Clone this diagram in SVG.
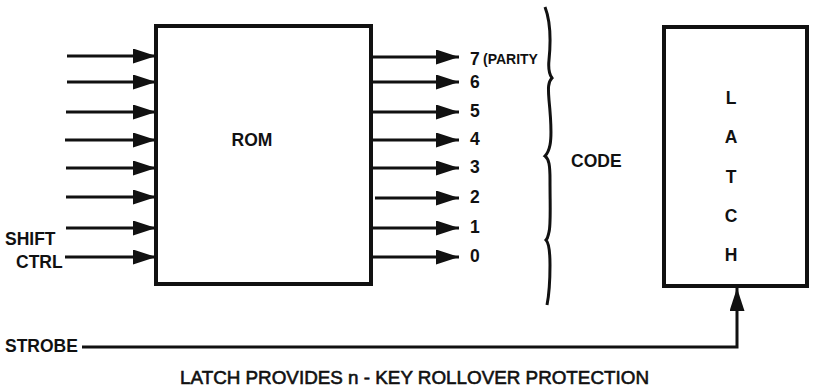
<svg xmlns="http://www.w3.org/2000/svg" width="815" height="390" viewBox="0 0 815 390">
<style>
text{font-family:"Liberation Sans",Arial,sans-serif;font-weight:bold;font-size:17.5px;fill:#111}
.box{fill:#fff;stroke:#111;stroke-width:4}
.w{stroke:#111;stroke-width:3;fill:none}
.mid{text-anchor:middle}
.cap{font-weight:normal;font-size:19px;stroke:#111;stroke-width:0.6}
</style>
<defs>
<marker id="ah" markerUnits="userSpaceOnUse" markerWidth="24" markerHeight="16" refX="23" refY="7.5" orient="auto">
<path d="M0,0 L23,7.5 L0,15 z" fill="#111"/>
</marker>
</defs>
<rect width="815" height="390" fill="#fff"/>
<g id="rom">
<rect class="box" x="156" y="26" width="215" height="258"/>
<text x="252" y="146" class="mid">ROM</text>
</g>
<g id="latch">
<rect class="box" x="664" y="27" width="143" height="259"/>
<text x="731" y="104" class="mid">L</text>
<text x="731" y="143" class="mid">A</text>
<text x="731" y="183" class="mid">T</text>
<text x="731" y="222" class="mid">C</text>
<text x="731" y="261" class="mid">H</text>
</g>
<g id="labels">
<text x="5" y="245">SHIFT</text>
<text x="16" y="268">CTRL</text>
<text x="5" y="352">STROBE</text>
<text x="470" y="65">7</text>
<text x="483" y="64" style="font-size:14px">(PARITY</text>
<text x="470" y="88">6</text>
<text x="470" y="117">5</text>
<text x="470" y="145">4</text>
<text x="470" y="173">3</text>
<text x="470" y="203">2</text>
<text x="470" y="233">1</text>
<text x="470" y="262">0</text>
<text x="571" y="167">CODE</text>
<text x="180" y="384" class="cap" textLength="469" lengthAdjust="spacingAndGlyphs">LATCH PROVIDES n - KEY ROLLOVER PROTECTION</text>
</g>
<g id="connectors" class="w">
<line x1="67" y1="56" x2="156" y2="56" marker-end="url(#ah)"/>
<line x1="67" y1="82" x2="156" y2="82" marker-end="url(#ah)"/>
<line x1="66" y1="112" x2="156" y2="112" marker-end="url(#ah)"/>
<line x1="65" y1="140" x2="156" y2="140" marker-end="url(#ah)"/>
<line x1="66" y1="168" x2="156" y2="168" marker-end="url(#ah)"/>
<line x1="66" y1="197" x2="156" y2="197" marker-end="url(#ah)"/>
<line x1="66" y1="228" x2="156" y2="228" marker-end="url(#ah)"/>
<line x1="65" y1="257" x2="156" y2="257" marker-end="url(#ah)"/>
<line x1="371" y1="57" x2="459" y2="57" marker-end="url(#ah)"/>
<line x1="371" y1="82" x2="459" y2="82" marker-end="url(#ah)"/>
<line x1="371" y1="112" x2="459" y2="112" marker-end="url(#ah)"/>
<line x1="371" y1="140" x2="459" y2="140" marker-end="url(#ah)"/>
<line x1="371" y1="168" x2="459" y2="168" marker-end="url(#ah)"/>
<line x1="375" y1="198" x2="459" y2="198" marker-end="url(#ah)"/>
<line x1="371" y1="228" x2="459" y2="228" marker-end="url(#ah)"/>
<line x1="371" y1="257" x2="459" y2="257" marker-end="url(#ah)"/>
<path d="M82,347 H737 V288" marker-end="url(#ah)"/>
<path d="M545,7 C550,20 551,40 549,60 C548,70 549,74 552,78 C548,82 548,88 549,100 C551,120 552,135 550,145 C549,150 548,153 545,156 C549,159 550,165 550,180 C550,205 551,225 549,232 C548,236 548,238 546,240 C549,243 550,250 550,265 C550,285 549,295 547,305"/>
</g>
</svg>
